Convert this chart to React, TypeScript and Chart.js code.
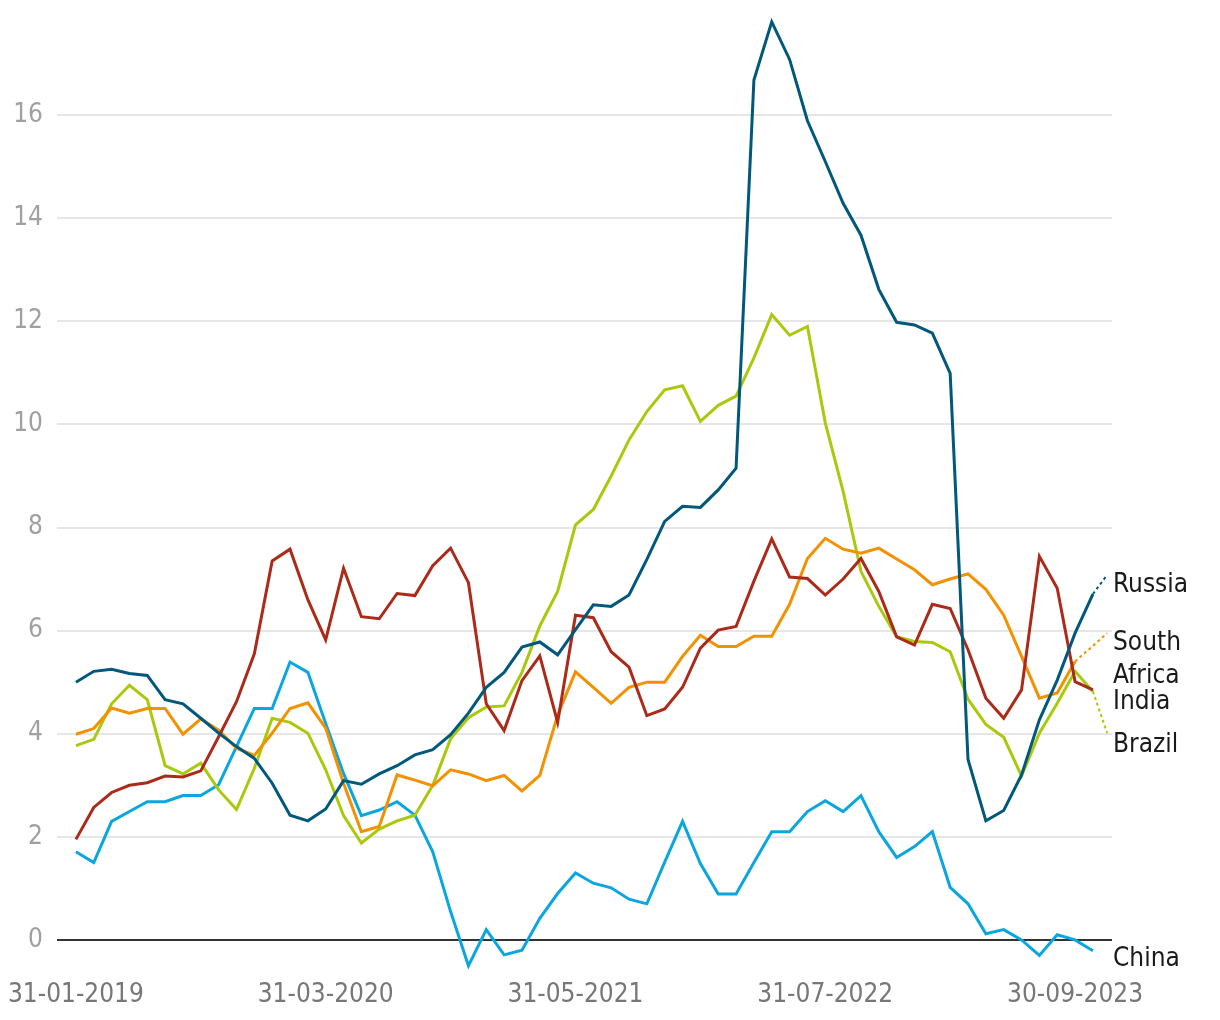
import React, { useEffect, useRef } from "react";
import { Chart, registerables } from "chart.js";

Chart.register(...registerables);

// x positions are month indices: 0 = 31-01-2019
const tickIndices = [0, 14, 28, 42, 56];
const tickLabels = ["31-01-2019", "31-03-2020", "31-05-2021", "31-07-2022", "30-09-2023"];
const yTickValues = [0, 2, 4, 6, 8, 10, 12, 14, 16];

const russia = [
  5.0, 5.21, 5.25, 5.17, 5.13, 4.66, 4.58, 4.3, 4.01, 3.75,
  3.52, 3.04, 2.42, 2.31, 2.54, 3.09, 3.02, 3.22, 3.38, 3.59,
  3.69, 3.98, 4.4, 4.9, 5.19, 5.68, 5.78, 5.53, 6.02, 6.5,
  6.47, 6.69, 7.38, 8.12, 8.41, 8.39, 8.73, 9.15, 16.68, 17.81,
  17.08, 15.89, 15.1, 14.29, 13.67, 12.62, 11.98, 11.93, 11.77, 10.99,
  3.5, 2.31, 2.51, 3.2, 4.27, 5.04, 5.95, 6.71,
];

const brazil = [
  3.77, 3.89, 4.58, 4.94, 4.66, 3.38, 3.22, 3.43, 2.91, 2.53,
  3.33, 4.3, 4.22, 4.01, 3.3, 2.41, 1.88, 2.15, 2.31, 2.42,
  3.0, 3.9, 4.31, 4.52, 4.54, 5.19, 6.09, 6.76, 8.05, 8.35,
  9.0, 9.7, 10.25, 10.67, 10.75, 10.06, 10.37, 10.55, 11.29, 12.13,
  11.73, 11.9, 10.03, 8.7, 7.15, 6.47, 5.88, 5.79, 5.77, 5.59,
  4.67, 4.18, 3.93, 3.18, 4.01, 4.59, 5.21, 4.82,
];

const southAfrica = [
  3.99, 4.1, 4.5, 4.4, 4.49, 4.49, 3.99, 4.29, 4.07, 3.72,
  3.58, 4.01, 4.49, 4.6, 4.11, 3.04, 2.1, 2.2, 3.2, 3.1,
  2.99, 3.3, 3.22, 3.09, 3.19, 2.89, 3.19, 4.36, 5.2, 4.9,
  4.59, 4.9, 5.0, 5.0, 5.5, 5.91, 5.69, 5.69, 5.89, 5.89,
  6.51, 7.4, 7.79, 7.58, 7.5, 7.6, 7.39, 7.18, 6.89, 7.0,
  7.1, 6.8, 6.3, 5.5, 4.69, 4.79, 5.4,
];

const india = [
  1.95, 2.57, 2.86, 3.0, 3.05, 3.18, 3.16, 3.28, 3.94, 4.62,
  5.55, 7.35, 7.58, 6.6, 5.82, 7.21, 6.27, 6.23, 6.72, 6.68,
  7.26, 7.6, 6.93, 4.58, 4.06, 5.03, 5.51, 4.22, 6.3, 6.25,
  5.59, 5.29, 4.35, 4.48, 4.9, 5.66, 6.01, 6.08, 6.96, 7.78,
  7.04, 7.01, 6.69, 7.0, 7.4, 6.76, 5.88, 5.72, 6.51, 6.43,
  5.63, 4.69, 4.3, 4.85, 7.44, 6.82, 5.01, 4.85,
];

const china = [
  1.71, 1.5, 2.3, 2.49, 2.68, 2.68, 2.8, 2.8, 3.01, 3.75,
  4.49, 4.49, 5.39, 5.19, 4.2, 3.23, 2.41, 2.52, 2.68, 2.42,
  1.71, 0.55, -0.5, 0.2, -0.29, -0.2, 0.42, 0.9, 1.3, 1.1,
  1.01, 0.79, 0.7, 1.51, 2.3, 1.48, 0.89, 0.89, 1.5, 2.1,
  2.1, 2.49, 2.7, 2.49, 2.8, 2.1, 1.6, 1.81, 2.1, 1.02,
  0.7, 0.12, 0.2, 0.0, -0.3, 0.1, 0.0, -0.21,
];

// dotted connectors from the last value to the end label
const connectorIndex = 57.8;
const russiaLabelAnchor = 7.08;
const southAfricaLabelAnchor = 5.95;
const brazilLabelAnchor = 4.01;

const endLabels = ["Russia", "South", "Africa", "India", "Brazil", "China"];
const endLabelBaselines = [6.75, 5.63, 4.99, 4.48, 3.65, -0.5];

const COLORS = {
  russia: "#00587c",
  brazil: "#a9c90c",
  southAfrica: "#f39100",
  india: "#ac2a19",
  china: "#0aa6e0",
};

const FONT_FAMILY = '"DejaVu Sans Condensed", "Liberation Sans Narrow", "DejaVu Sans", sans-serif';

const toPoints = (arr: number[]) => arr.map((v, i) => ({ x: i, y: v }));
const connector = (arr: number[], anchor: number) => [
  { x: arr.length - 1, y: arr[arr.length - 1] },
  { x: connectorIndex, y: anchor },
];

const solid = (label: string, data: number[], color: string) => ({
  label,
  data: toPoints(data),
  borderColor: color,
  backgroundColor: color,
  borderWidth: 3,
  pointRadius: 0,
  tension: 0,
  fill: false,
});

const dotted = (label: string, data: number[], anchor: number, color: string) => ({
  label,
  data: connector(data, anchor),
  borderColor: color,
  backgroundColor: color,
  borderWidth: 2,
  borderDash: [3, 3],
  pointRadius: 0,
  tension: 0,
  fill: false,
});

const endLabelPlugin = {
  id: "endLabels",
  afterDatasetsDraw(chart: any) {
    const { ctx, chartArea, scales } = chart;
    ctx.save();
    ctx.font = `26px ${FONT_FAMILY}`;
    ctx.fillStyle = "#1a1a1a";
    ctx.textAlign = "left";
    ctx.textBaseline = "alphabetic";
    endLabels.forEach((t, i) => {
      ctx.fillText(t, chartArea.right + 1, scales.y.getPixelForValue(endLabelBaselines[i]));
    });
    ctx.restore();
  },
};

export default function App() {
  const ref = useRef<HTMLCanvasElement | null>(null);

  useEffect(() => {
    if (!ref.current) return;
    const chart = new Chart(ref.current, {
      type: "line",
      data: {
        datasets: [
          solid("Russia", russia, COLORS.russia),
          dotted("Russia end", russia, russiaLabelAnchor, COLORS.russia),
          solid("India", india, COLORS.india),
          solid("South Africa", southAfrica, COLORS.southAfrica),
          dotted("South Africa end", southAfrica, southAfricaLabelAnchor, COLORS.southAfrica),
          solid("Brazil", brazil, COLORS.brazil),
          dotted("Brazil end", brazil, brazilLabelAnchor, COLORS.brazil),
          solid("China", china, COLORS.china),
        ] as any,
      },
      options: {
        animation: false,
        responsive: false,
        maintainAspectRatio: false,
        layout: { padding: { top: 12, right: 108, left: 0, bottom: 0 } },
        plugins: {
          legend: { display: false },
          tooltip: { enabled: false },
        },
        scales: {
          x: {
            type: "linear",
            min: -1.06,
            max: 58.07,
            grid: { display: false, drawTicks: false },
            border: { display: false },
            afterBuildTicks: (s: any) => {
              s.ticks = tickIndices.map((v) => ({ value: v }));
            },
            afterFit: (s: any) => {
              s.height = 44;
              s.paddingLeft = 0;
              s.paddingRight = 0;
            },
            ticks: {
              autoSkip: false,
              maxRotation: 0,
              minRotation: 0,
              padding: 4,
              color: "#777777",
              font: { family: FONT_FAMILY, size: 26 },
              callback: (v: any) => {
                const k = tickIndices.indexOf(Number(v));
                return k >= 0 ? tickLabels[k] : "";
              },
            },
          },
          y: {
            type: "linear",
            min: -0.7,
            max: 18,
            border: { display: false },
            afterBuildTicks: (s: any) => {
              s.ticks = yTickValues.map((v) => ({ value: v }));
            },
            afterFit: (s: any) => {
              s.width = 57;
              s.paddingTop = 0;
              s.paddingBottom = 0;
            },
            grid: {
              drawTicks: false,
              lineWidth: 2,
              color: (c: any) => (c.tick && c.tick.value === 0 ? "#333333" : "#e6e6e6"),
            },
            ticks: {
              padding: 14,
              color: "#a0a0a0",
              font: { family: FONT_FAMILY, size: 26 },
              callback: (v: any) => String(v),
            },
          },
        },
      } as any,
      plugins: [endLabelPlugin],
    });
    return () => chart.destroy();
  }, []);

  return (
    <div style={{ position: "fixed", left: 0, top: 0, width: 1220, height: 1020, background: "#ffffff" }}>
      <canvas ref={ref} width={1220} height={1020} style={{ display: "block", width: 1220, height: 1020 }} />
    </div>
  );
}
